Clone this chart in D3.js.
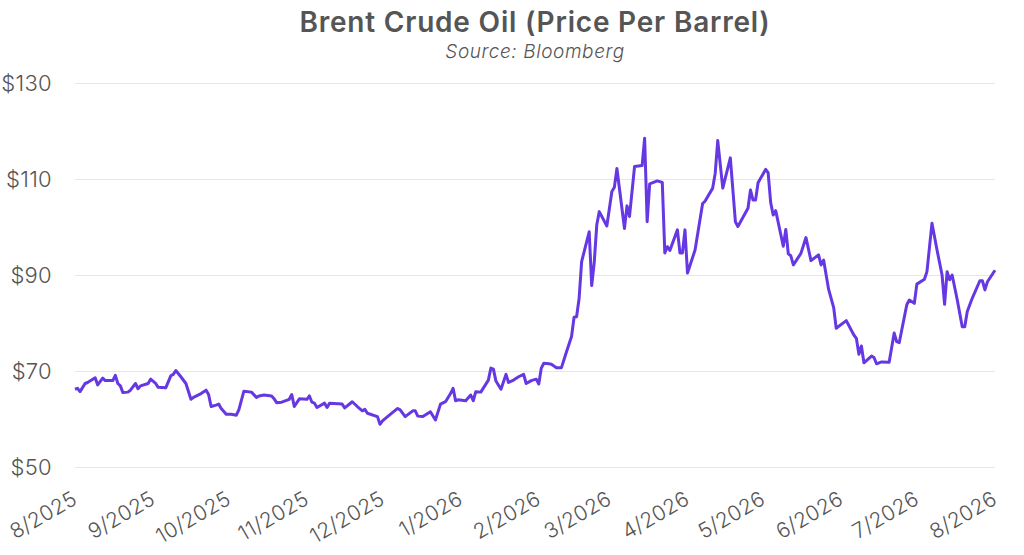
<!DOCTYPE html>
<html>
<head>
<meta charset="utf-8">
<script src="https://cdn.jsdelivr.net/npm/d3@7"></script>
<style>
  body { margin: 0; background: #fff; }
  svg { display: block; font-family: Inter, "Open Sans", sans-serif; }
</style>
</head>
<body>
<div id="chart"></div>
<script>
// Brent daily close
const dates = [
  "2025-08-01","2025-08-02","2025-08-03","2025-08-05","2025-08-06","2025-08-09","2025-08-10","2025-08-12",
  "2025-08-13","2025-08-16","2025-08-17","2025-08-18","2025-08-19","2025-08-20","2025-08-22","2025-08-23",
  "2025-08-25","2025-08-26","2025-08-27","2025-08-30","2025-08-31","2025-09-02","2025-09-03","2025-09-06",
  "2025-09-08","2025-09-09","2025-09-10","2025-09-12","2025-09-14","2025-09-16","2025-09-17","2025-09-20",
  "2025-09-22","2025-09-23","2025-09-24","2025-09-26","2025-09-27","2025-09-28","2025-09-30","2025-10-02",
  "2025-10-04","2025-10-05","2025-10-07","2025-10-10","2025-10-12","2025-10-13","2025-10-15","2025-10-18",
  "2025-10-19","2025-10-20","2025-10-22","2025-10-25","2025-10-26","2025-10-27","2025-10-29","2025-11-01",
  "2025-11-02","2025-11-03","2025-11-04","2025-11-05","2025-11-08","2025-11-09","2025-11-10","2025-11-15",
  "2025-11-16","2025-11-19","2025-11-21","2025-11-23","2025-11-24","2025-11-25","2025-11-29","2025-11-30",
  "2025-12-01","2025-12-03","2025-12-07","2025-12-08","2025-12-10","2025-12-13","2025-12-14","2025-12-15",
  "2025-12-17","2025-12-20","2025-12-22","2025-12-24","2025-12-26","2025-12-28","2025-12-29","2025-12-30",
  "2025-12-31","2026-01-03","2026-01-05","2026-01-06","2026-01-07","2026-01-09","2026-01-12","2026-01-13",
  "2026-01-14","2026-01-15","2026-01-17","2026-01-19","2026-01-20","2026-01-22","2026-01-24","2026-01-26",
  "2026-01-27","2026-01-29","2026-01-31","2026-02-01","2026-02-02","2026-02-03","2026-02-05","2026-02-06",
  "2026-02-08","2026-02-10","2026-02-12","2026-02-14","2026-02-15","2026-02-16","2026-02-17","2026-02-18",
  "2026-02-21","2026-02-22","2026-02-23","2026-02-24","2026-02-25","2026-02-28","2026-03-02","2026-03-03",
  "2026-03-04","2026-03-07","2026-03-08","2026-03-09","2026-03-11","2026-03-14","2026-03-15","2026-03-16",
  "2026-03-17","2026-03-20","2026-03-22","2026-03-23","2026-03-24","2026-03-25","2026-03-28","2026-03-29",
  "2026-03-30","2026-03-31","2026-04-01","2026-04-04","2026-04-07","2026-04-08","2026-04-11","2026-04-12",
  "2026-04-13","2026-04-15","2026-04-18","2026-04-20","2026-04-21","2026-04-25","2026-04-26","2026-04-27",
  "2026-04-28","2026-04-29","2026-05-02","2026-05-03","2026-05-04","2026-05-05","2026-05-06","2026-05-09",
  "2026-05-10","2026-05-11","2026-05-12","2026-05-13","2026-05-16","2026-05-18","2026-05-20","2026-05-23",
  "2026-05-24","2026-05-25","2026-05-27","2026-05-29","2026-05-30","2026-06-03","2026-06-06","2026-06-07",
  "2026-06-08","2026-06-09","2026-06-10","2026-06-13","2026-06-14","2026-06-15","2026-06-17","2026-06-20",
  "2026-06-22","2026-06-23","2026-06-24","2026-06-27","2026-06-28","2026-06-30","2026-07-01","2026-07-04",
  "2026-07-05","2026-07-07","2026-07-09","2026-07-11","2026-07-12","2026-07-13","2026-07-14","2026-07-15",
  "2026-07-17","2026-07-19","2026-07-20","2026-07-21","2026-07-23","2026-07-26","2026-07-27","2026-07-28",
  "2026-07-29","2026-08-01"
]
const prices = [
  66.2,66.4,65.7,67.4,67.6,68.6,67.1,68.5,
  68.0,68.0,69.1,67.4,66.9,65.5,65.6,66.0,
  67.4,66.3,66.9,67.4,68.3,67.4,66.6,66.5,
  69.0,69.3,70.1,68.8,67.4,64.1,64.5,65.3,
  66.0,65.1,62.6,62.9,63.1,62.2,61.0,61.0,
  60.8,61.9,65.8,65.6,64.5,64.8,65.0,64.8,
  64.2,63.4,63.5,64.1,65.1,62.6,64.2,64.1,
  64.8,63.5,63.3,62.4,63.3,62.4,63.3,63.1,
  62.3,63.6,62.6,61.7,62.0,61.2,60.5,58.9,
  59.6,60.5,62.2,61.9,60.5,61.7,61.7,60.6,
  60.5,61.5,59.8,63.1,63.6,65.3,66.4,63.8,
  64.0,63.8,65.0,63.8,65.7,65.6,68.1,70.6,
  70.4,67.9,66.2,69.3,67.6,68.1,68.8,69.3,
  67.4,68.0,68.3,67.3,70.6,71.6,71.5,71.4,
  70.7,70.7,74.0,77.2,81.2,81.3,85.1,92.8,
  99.0,87.8,92.6,100.4,103.2,100.2,107.4,108.3,
  112.2,99.7,104.4,102.2,112.6,112.8,118.5,101.1,
  109.0,109.6,109.3,94.6,95.9,95.1,99.4,94.6,
  94.6,99.4,90.4,95.2,104.9,105.4,108.1,111.2,
  118.0,108.1,114.4,101.1,100.1,103.9,107.7,105.6,
  105.6,109.2,112.0,111.3,105.1,102.5,103.4,96.0,
  99.5,94.4,94.0,92.1,94.5,97.8,93.0,94.2,
  92.1,93.1,87.0,83.2,78.9,80.5,77.5,76.8,
  73.5,75.2,71.7,73.1,72.8,71.5,71.9,71.8,
  77.9,76.1,75.9,83.8,84.8,84.1,88.1,89.1,
  90.7,100.8,95.2,90.0,83.9,90.7,89.0,90.0,
  84.9,79.2,79.2,82.4,85.2,88.8,88.8,86.9,
  88.6,91.0
]
const yTicks = [50, 70, 90, 110, 130]
const xTickLabels = ["8/2025","9/2025","10/2025","11/2025","12/2025","1/2026","2/2026",
  "3/2026","4/2026","5/2026","6/2026","7/2026","8/2026"]

const titleText = "Brent Crude Oil (Price Per Barrel)"
const subtitleText = "Source: Bloomberg"

const width = 1024, height = 555
const margin = {top: 83, right: 29, bottom: 88, left: 75}

const parse = d3.timeParse("%Y-%m-%d")
const series = dates.map((d, i) => ({date: parse(d), value: prices[i]}))
const tickDates = xTickLabels.map(s => d3.timeParse("%m/%Y")(s))

const svg = d3.select("#chart")
    .append("svg")
    .attr("width", width)
    .attr("height", height)

const x = d3.scaleTime()
    .domain([tickDates[0], tickDates[tickDates.length - 1]])
    .range([margin.left, width - margin.right])

const y = d3.scaleLinear()
    .domain([50, 130])
    .range([height - margin.bottom, margin.top])

// horizontal grid + y labels
const yAxis = svg.append("g")
    .attr("transform", `translate(${margin.left},0)`)
    .call(d3.axisLeft(y)
        .tickValues(yTicks)
        .tickSize(-(width - margin.left - margin.right))
        .tickPadding(23)
        .tickFormat(d => "$" + d))
yAxis.select(".domain").remove()
yAxis.selectAll(".tick line").attr("stroke", "#e6e6e6").attr("stroke-width", 1)
yAxis.selectAll(".tick text")
    .attr("fill", "#555")
    .style("font-size", "22px")
    .style("font-weight", "300")
    .style("letter-spacing", "0.3px")
    .style("font-family", "Inter, sans-serif")

// x labels, rotated
const xAxis = svg.append("g")
    .attr("transform", `translate(0,${height - margin.bottom})`)
    .call(d3.axisBottom(x).tickValues(tickDates).tickSize(0).tickFormat((d, i) => xTickLabels[i]))
xAxis.select(".domain").remove()
xAxis.selectAll(".tick text")
    .attr("fill", "#555")
    .style("font-size", "21px")
    .style("font-weight", "300")
    .style("letter-spacing", "0.3px")
    .style("font-family", "Inter, sans-serif")
    .attr("text-anchor", "end")
    .attr("dy", null)
    .attr("y", 0)
    .attr("transform", "translate(3,36) rotate(-30)")

// the line
const line = d3.line()
    .x(d => x(d.date))
    .y(d => y(d.value))

svg.append("path")
    .datum(series)
    .attr("fill", "none")
    .attr("stroke", "#6538e3")
    .attr("stroke-width", 3)
    .attr("stroke-linejoin", "round")
    .attr("d", line)

// titles
svg.append("text")
    .attr("x", (margin.left + width - margin.right) / 2)
    .attr("y", 32)
    .attr("text-anchor", "middle")
    .attr("fill", "#555")
    .style("font-size", "28px")
    .style("font-weight", "600")
    .style("letter-spacing", "0.8px")
    .text(titleText)

svg.append("text")
    .attr("x", (margin.left + width - margin.right) / 2)
    .attr("y", 58)
    .attr("text-anchor", "middle")
    .attr("fill", "#555")
    .style("font-size", "19px")
    .style("font-style", "italic")
    .style("font-weight", "300")
    .style("letter-spacing", "0.6px")
    .text(subtitleText)
</script>
</body>
</html>
